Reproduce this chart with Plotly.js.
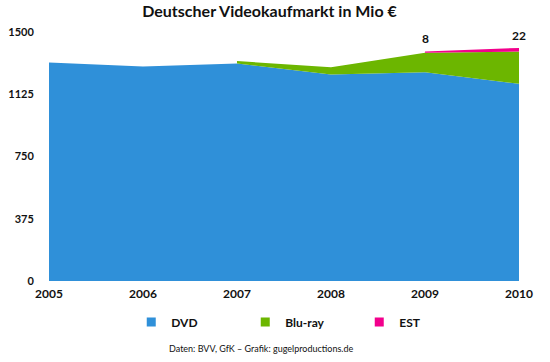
<!DOCTYPE html>
<html>
<head>
<meta charset="utf-8">
<script src="https://cdn.plot.ly/plotly-3.0.1.min.js"></script>
<style>html,body{margin:0;padding:0;background:#fff;}#chart{width:550px;height:362px;}</style>
</head>
<body>
<div id="chart"></div>
<script>
const years = [2005, 2006, 2007, 2008, 2009, 2010];
const dvd = [1316, 1292, 1310, 1244, 1258, 1188];
const bluRayYears = [2007, 2008, 2009, 2010];
const bluRay = [15, 44, 117, 194];
const estYears = [2009, 2010];
const est = [8, 22];
const yTicks = [0, 375, 750, 1125, 1500];

const colors = {dvd: '#2F90D9', bluRay: '#6CB600', est: '#F2008C'};
const FONT = 'Lato, "Open Sans", sans-serif';

function dvdAt(y) { return dvd[years.indexOf(y)]; }
function brAt(y) { const i = bluRayYears.indexOf(y); return i < 0 ? 0 : bluRay[i]; }

// Band polygon: top edge forward, bottom edge backward
function band(xs, bottoms, tops) {
  return {
    x: xs.concat(xs.slice().reverse()),
    y: tops.concat(bottoms.slice().reverse())
  };
}

const brBottom = bluRayYears.map(dvdAt);
const brTop = bluRayYears.map((y, i) => dvdAt(y) + bluRay[i]);
const estBottom = estYears.map(y => dvdAt(y) + brAt(y));
const estTop = estYears.map((y, i) => dvdAt(y) + brAt(y) + est[i]);

const brBand = band(bluRayYears, brBottom, brTop);
const estBand = band(estYears, estBottom, estTop);

const traces = [
  {x: years, y: dvd, type: 'scatter', mode: 'lines', fill: 'tozeroy',
   fillcolor: colors.dvd, line: {width: 0, color: colors.dvd}, showlegend: false, hoverinfo: 'skip'},
  {x: brBand.x, y: brBand.y, type: 'scatter', mode: 'lines', fill: 'toself',
   fillcolor: colors.bluRay, line: {width: 0, color: colors.bluRay}, showlegend: false, hoverinfo: 'skip'},
  {x: estBand.x, y: estBand.y, type: 'scatter', mode: 'lines', fill: 'toself',
   fillcolor: colors.est, line: {width: 0, color: colors.est}, showlegend: false, hoverinfo: 'skip'},
  // legend entries
  {x: [null], y: [null], type: 'scatter', mode: 'markers', name: 'DVD',
   marker: {symbol: 'square', size: 9, color: colors.dvd}},
  {x: [null], y: [null], type: 'scatter', mode: 'markers', name: 'Blu-ray',
   marker: {symbol: 'square', size: 9, color: colors.bluRay}},
  {x: [null], y: [null], type: 'scatter', mode: 'markers', name: 'EST',
   marker: {symbol: 'square', size: 9, color: colors.est}}
];

const labelAnnotations = estYears.map((y, i) => ({
  x: y, y: estTop[i], xref: 'x', yref: 'y', text: String(est[i]),
  showarrow: false, yanchor: 'bottom', yshift: 3,
  font: {family: FONT, size: 12, color: '#111', weight: 'bold'}
}));

const layout = {
  width: 550, height: 362,
  margin: {l: 49, r: 31, t: 32, b: 81, autoexpand: false},
  paper_bgcolor: '#fff', plot_bgcolor: '#fff',
  font: {family: FONT, color: '#111'},
  title: {text: '<b>Deutscher Videokaufmarkt in Mio €</b>', x: 0.49, xanchor: 'center',
          y: 0.968, yanchor: 'middle', font: {family: FONT, size: 16, color: '#111'}},
  xaxis: {range: [2005, 2010], tickvals: years, ticktext: years.map(String),
          showgrid: false, zeroline: false, showline: false,
          ticks: 'outside', ticklen: 2, tickcolor: 'rgba(0,0,0,0)',
          tickfont: {family: FONT, size: 12, color: '#111', weight: 'bold'}, fixedrange: true},
  yaxis: {range: [0, 1500], tickvals: yTicks, ticktext: yTicks.map(String),
          showgrid: false, zeroline: false, showline: false,
          ticks: 'outside', ticklen: 12, tickcolor: 'rgba(0,0,0,0)',
          tickfont: {family: FONT, size: 11, color: '#111', weight: 'bold'}, fixedrange: true},
  showlegend: true,
  legend: {orientation: 'h', x: 0.175, xanchor: 'left', y: -0.165, yanchor: 'middle',
           entrywidth: 69, entrywidthmode: 'pixels',
           font: {family: FONT, size: 12, color: '#111', weight: 'bold'}},
  annotations: labelAnnotations.concat([
    {text: 'Daten: BVV, GfK – Grafik: gugelproductions.de', xref: 'paper', yref: 'paper',
     x: 0.45, y: -0.27, yanchor: 'middle', xanchor: 'center', showarrow: false,
     font: {family: FONT, size: 9, color: '#111'}}
  ])
};

Plotly.newPlot('chart', traces, layout, {displayModeBar: false, staticPlot: true});
</script>
</body>
</html>
